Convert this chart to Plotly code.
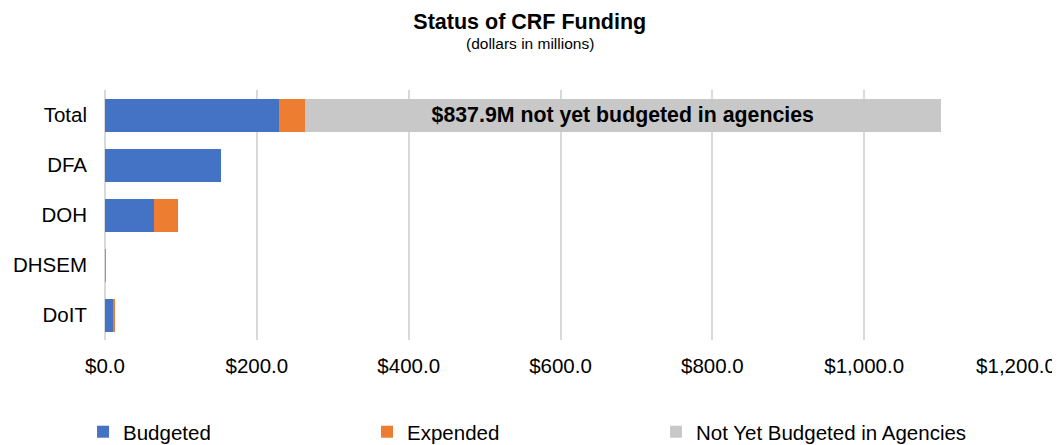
import plotly.graph_objects as go

categories = ["Total", "DFA", "DOH", "DHSEM", "DoIT"]
budgeted = [229.2, 152.4, 64.0, 0.3, 10.1]
expended = [33.8, 0.0, 31.6, 0.5, 3.1]
not_yet = [837.9, 0, 0, 0, 0]
not_yet_text = ["$837.9M not yet budgeted in agencies", "", "", "", ""]
tick_vals = [0, 200, 400, 600, 800, 1000, 1200]
tick_text = ["$0.0", "$200.0", "$400.0", "$600.0", "$800.0", "$1,000.0", "$1,200.0"]

FONT = "Liberation Sans, Arial, sans-serif"
W, H = 1052, 437

fig = go.Figure()
fig.add_trace(go.Bar(y=categories, x=budgeted, orientation="h", name="Budgeted",
                     marker=dict(color="#4472C4", line=dict(width=0)), legend="legend"))
fig.add_trace(go.Bar(y=categories, x=expended, orientation="h", name="Expended",
                     marker=dict(color="#ED7D31", line=dict(width=0)), legend="legend2"))
fig.add_trace(go.Bar(y=categories, x=not_yet, orientation="h", name="Not Yet Budgeted in Agencies",
                     marker=dict(color="#C8C8C8", line=dict(width=0)), legend="legend3",
                     text=not_yet_text, textposition="inside", insidetextanchor="middle",
                     textangle=0, constraintext="none",
                     textfont=dict(family=FONT, size=21.3, color="black", weight="bold")))

leg_common = dict(orientation="h", xanchor="left", xref="paper", yref="container", y=0.03,
                  yanchor="middle", font=dict(size=20.5, color="black"), itemwidth=30,
                  bgcolor="rgba(0,0,0,0)")

fig.update_layout(
    width=W, height=H,
    barmode="stack", bargap=0.34,
    plot_bgcolor="white", paper_bgcolor="white",
    margin=dict(l=97, r=44, t=82, b=105, autoexpand=False),
    font=dict(family=FONT, size=20.5, color="black"),
    title=dict(text="<b>Status of CRF Funding</b>", xref="container", x=0.496, xanchor="center",
               yref="container", y=0.97, yanchor="middle",
               font=dict(family=FONT, size=21.5, color="black")),
    xaxis=dict(range=[0, 1200], tickvals=tick_vals, ticktext=tick_text,
               showgrid=True, gridcolor="#D9D9D9", gridwidth=1.8,
               zeroline=True, zerolinecolor="#D9D9D9", zerolinewidth=1.8,
               showline=False, ticks="", tickfont=dict(size=20.5), ticklabelstandoff=11,
               fixedrange=True),
    yaxis=dict(categoryorder="array", categoryarray=categories[::-1],
               ticks="", showgrid=False, tickfont=dict(size=20.5), ticklabelstandoff=17),
    showlegend=True,
    legend=dict(x=-0.0241, **leg_common),
    legend2=dict(x=0.2876, **leg_common),
    legend3=dict(x=0.6048, **leg_common),
    annotations=[dict(text="(dollars in millions)", xref="paper", yref="paper",
                      x=0.4665, y=1.185, xanchor="center", yanchor="middle", showarrow=False,
                      font=dict(family=FONT, size=15.5, color="black"))],
)

fig.write_html("out.html")
